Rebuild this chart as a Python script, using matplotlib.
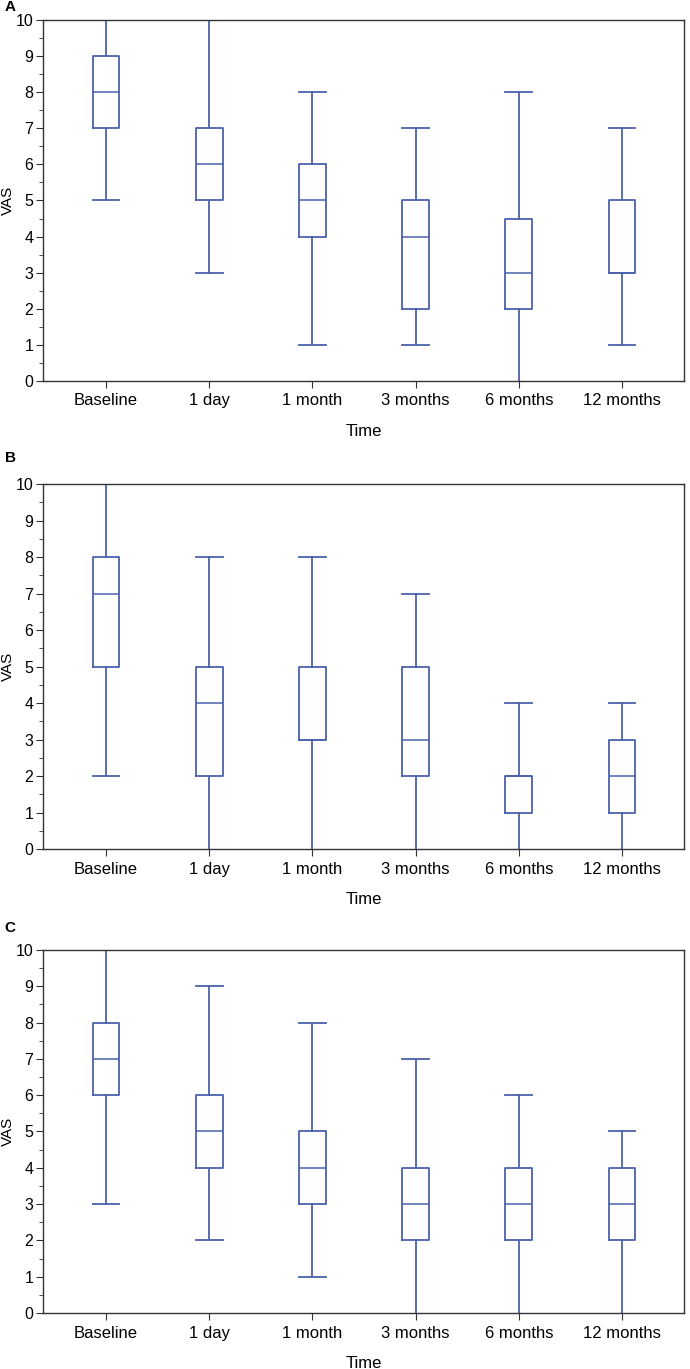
import matplotlib.pyplot as plt
from matplotlib.ticker import MultipleLocator

plt.rcParams['font.family'] = ['Liberation Sans', 'DejaVu Sans']

categories = ["Baseline", "1 day", "1 month", "3 months", "6 months", "12 months"]

# VAS box statistics per panel: (whislo, q1, med, q3, whishi)
panel_a = [(5, 7, 8, 9, 10), (3, 5, 6, 7, 10), (1, 4, 5, 6, 8),
           (1, 2, 4, 5, 7), (0, 2, 3, 4.5, 8), (1, 3, 3, 5, 7)]
panel_b = [(2, 5, 7, 8, 10), (0, 2, 4, 5, 8), (0, 3, 3, 5, 8),
           (0, 2, 3, 5, 7), (0, 1, 2, 2, 4), (0, 1, 2, 3, 4)]
panel_c = [(3, 6, 7, 8, 10), (2, 4, 5, 6, 9), (1, 3, 4, 5, 8),
           (0, 2, 3, 4, 7), (0, 2, 3, 4, 6), (0, 2, 3, 4, 5)]

panel_letters = ["A", "B", "C"]
panels = [panel_a, panel_b, panel_c]

box_color = '#4A62AC'
spine_color = '#333333'

fig = plt.figure(figsize=(6.9, 13.69), dpi=100)

# axes rectangles [left, bottom, width, height] in figure fractions
rects = [[0.0623, 0.7217, 0.929, 0.2637],
         [0.0623, 0.3798, 0.929, 0.2666],
         [0.0623, 0.0409, 0.929, 0.2652]]
letter_y = [0.995, 0.6655, 0.322]

for i, (letter, data) in enumerate(zip(panel_letters, panels)):
    ax = fig.add_axes(rects[i])
    stats = []
    for lab, (lo, q1, med, q3, hi) in zip(categories, data):
        stats.append(dict(label=lab, whislo=lo, q1=q1, med=med, q3=q3,
                          whishi=hi, fliers=[]))
    parts = ax.bxp(stats, positions=range(1, len(categories) + 1), widths=0.26,
                   showfliers=False,
                   boxprops=dict(color=box_color, linewidth=1.3),
                   whiskerprops=dict(color=box_color, linewidth=1.3),
                   capprops=dict(color=box_color, linewidth=1.3),
                   medianprops=dict(color=box_color, linewidth=1.1),
                   capwidths=0.26)

    ax.set_xlim(0.39, 6.6)
    ax.set_ylim(0, 10)
    # caps lying on the frame are hidden by it in the original
    for cap in parts['caps']:
        if cap.get_ydata()[0] in ax.get_ylim():
            cap.set_visible(False)

    ax.yaxis.set_major_locator(MultipleLocator(1))
    ax.yaxis.set_minor_locator(MultipleLocator(0.5))
    ax.tick_params(axis='both', which='major', length=5,
                   color=spine_color, direction='out')
    ax.tick_params(axis='y', labelsize=11.5, pad=2)
    ax.tick_params(axis='x', labelsize=12, pad=4)
    ax.tick_params(axis='y', which='minor', length=3, color=spine_color)
    for sp in ax.spines.values():
        sp.set_color(spine_color)
        sp.set_linewidth(1.0)
    ax.set_ylabel("VAS", fontsize=11)
    ax.yaxis.set_label_coords(-0.043, 0.5)
    ax.set_xlabel("Time", fontsize=12, labelpad=11)

    fig.text(0.007, letter_y[i], letter,
             fontsize=11, fontweight='bold', va='center', ha='left')

plt.savefig("out.png", dpi=100)
